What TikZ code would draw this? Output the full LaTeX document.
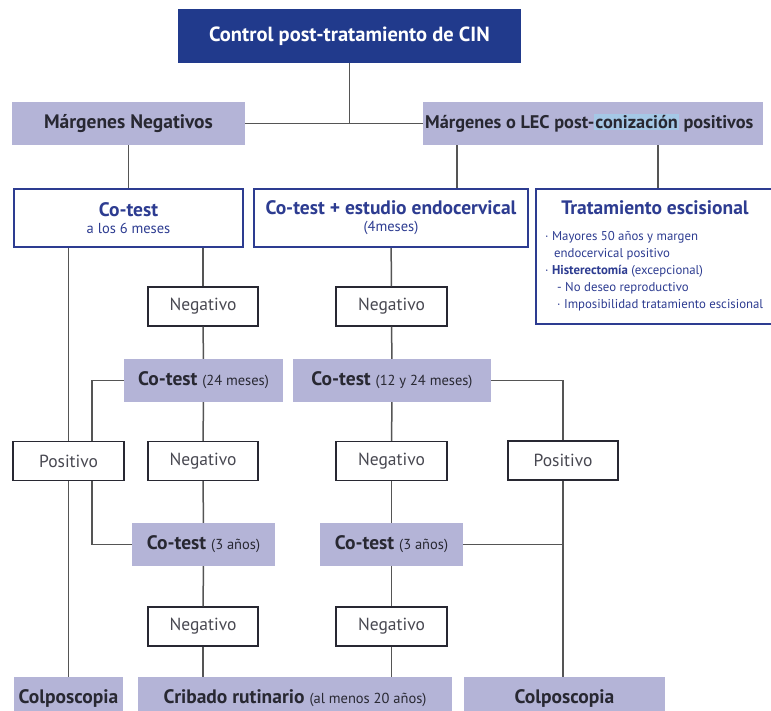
\documentclass[tikz,border=0pt]{standalone}
\usepackage{fontspec}
\setmainfont{PT Sans}
\usepackage{tikz}

\definecolor{cinblue}{RGB}{33,58,140}
\definecolor{lavfill}{RGB}{180,180,215}
\definecolor{bluetxt}{RGB}{45,60,145}
\definecolor{hlblue}{RGB}{165,200,230}
\definecolor{linegray}{RGB}{85,85,85}
\definecolor{darktxt}{RGB}{40,40,50}

\newcommand{\titlefont}{\fontsize{20.5}{24}\selectfont}
\newcommand{\bigfont}{\fontsize{19.5}{23}\selectfont}
\newcommand{\resfont}{\fontsize{17.5}{20}\selectfont}
\newcommand{\smallfont}{\fontsize{14.5}{17}\selectfont}
\newcommand{\listfont}{\fontsize{12.8}{17}\selectfont}

\begin{document}
\begin{tikzpicture}[x=1pt, y=-1pt,
	titlenode/.style={fill=cinblue, text=white, font=\titlefont\bfseries, minimum width=343pt, minimum height=54pt},
	lavnode/.style={fill=lavfill, text=darktxt, font=\bigfont\bfseries, inner sep=0pt, minimum height=43pt},
	bluenode/.style={draw=bluetxt, line width=2pt, fill=white, text=bluetxt, inner sep=0pt, minimum height=58pt, align=center},
	resnode/.style={draw=darktxt, line width=1.4pt, fill=white, text=darktxt!85, font=\resfont, inner sep=0pt, minimum width=110pt, minimum height=39pt},
	link/.style={draw=linegray, line width=1.5pt}]

	\clip (0,0) rectangle (771,710);
	\fill [white] (0,0) rectangle (771,710);

	% top levels
	\node [titlenode] (title) at (349.5,36) {Control post-tratamiento de CIN};
	\node [lavnode, minimum width=233pt] (mneg) at (128.5,123.5) {Márgenes Negativos};
	\node [lavnode, anchor=west, inner xsep=2pt, font=\fontsize{18.3}{22}\selectfont\bfseries] (mpos) at (423,123.5) {Márgenes o LEC post-{\setlength\fboxsep{1pt}\colorbox{hlblue}{conización}} positivos\hspace*{8pt}};

	\node [bluenode, minimum width=229pt] (cotest1) at (128.5,218) {{\bigfont\bfseries Co-test}\\[5pt]{\smallfont a los 6 meses}};
	\node [bluenode, minimum width=274pt] (cotest2) at (391,218) {{\bigfont\bfseries Co-test + estudio endocervical}\\[5pt]{\smallfont (4meses)}};
	\node [bluenode, minimum width=244pt, minimum height=135pt] (trat) at (658,256.5) {};
	\node [text=bluetxt, font=\bigfont\bfseries] (trattitle) at (655,208) {Tratamiento escisional};
	\node [text=bluetxt, font=\listfont, anchor=west, align=left, inner sep=0pt] (tratlist) at (545,271.5) {%
		· Mayores 50 años y margen\\
		\hspace*{9pt}endocervical positivo\\
		· \textbf{Histerectomía} (excepcional)\\
		\hspace*{12pt}- No deseo reproductivo\\
		\hspace*{12pt}· Imposibilidad tratamiento escisional};

	% left branch
	\node [resnode] (neg1) at (203,306.5) {Negativo};
	\node [lavnode, minimum width=159pt] (ct24) at (203.5,380.5) {Co-test {\smallfont\mdseries (24 meses)}};
	\node [resnode, minimum width=111pt] (pos1) at (68.5,461) {Positivo};
	\node [resnode] (neg3) at (203,461) {Negativo};
	\node [lavnode, minimum width=143pt] (ct3a) at (203.5,544.5) {Co-test {\smallfont\mdseries (3 años)}};
	\node [resnode] (neg5) at (203,626.5) {Negativo};

	% middle branch
	\node [resnode, minimum width=111pt] (neg2) at (391.5,306.5) {Negativo};
	\node [lavnode, minimum width=198pt] (ct1224) at (392,380.5) {Co-test {\smallfont\mdseries (12 y 24 meses)}};
	\node [resnode, minimum width=111pt] (neg4) at (391.5,461) {Negativo};
	\node [resnode] (pos2) at (563,460.5) {Positivo};
	\node [lavnode, minimum width=143pt] (ct3b) at (391.5,544.5) {Co-test {\smallfont\mdseries (3 años)}};
	\node [resnode, minimum width=111pt] (neg6) at (391.5,626.5) {Negativo};

	% bottom row
	\node [lavnode, minimum width=109pt] (colpo1) at (68.5,698.5) {Colposcopia};
	\node [lavnode, minimum width=314pt] (cribado) at (295,698.5) {Cribado rutinario {\smallfont\mdseries (al menos 20 años)}};
	\node [lavnode, minimum width=201pt] (colpo2) at (564.5,698.5) {Colposcopia};

	\coordinate (cpin) at ([xshift=66pt]cotest2.north);
	\coordinate (posjoin) at ([xshift=23.5pt]pos1.north);
	\coordinate (posdrop) at ([xshift=23.5pt]pos1.south);

	\draw [link] (title) -- (title |- mneg);
	\draw [link] (mneg) -- (mpos);
	\draw [link] (mneg) -- (cotest1);
	\draw [link] (cpin) -- (cpin |- mpos.south);
	\draw [link] (trat.north) -- (trat.north |- mpos.south);

	\draw [link] (pos1 |- cotest1.south) -- (pos1);
	\draw [link] (pos1) -- (colpo1);
	\draw [link] (neg1 |- cotest1.south) -- (neg1);
	\draw [link] (neg1) -- (ct24);
	\draw [link] (ct24) -- (neg3);
	\draw [link] (neg3) -- (ct3a);
	\draw [link] (ct3a) -- (neg5);
	\draw [link] (neg5) -- (neg5 |- cribado.north);
	\draw [link] (ct24) -| (posjoin);
	\draw [link] (posdrop) |- (ct3a);

	\draw [link] (cotest2) -- (neg2);
	\draw [link] (neg2) -- (ct1224);
	\draw [link] (ct1224) -- (neg4);
	\draw [link] (neg4) -- (ct3b);
	\draw [link] (ct3b) -- (neg6);
	\draw [link] (neg6) -- (neg6 |- cribado.north);
	\draw [link] (ct1224) -| (pos2);
	\draw [link] (ct3b) -- (ct3b -| pos2);
	\draw [link] (pos2) -- (pos2 |- colpo2.north);
\end{tikzpicture}
\end{document}
